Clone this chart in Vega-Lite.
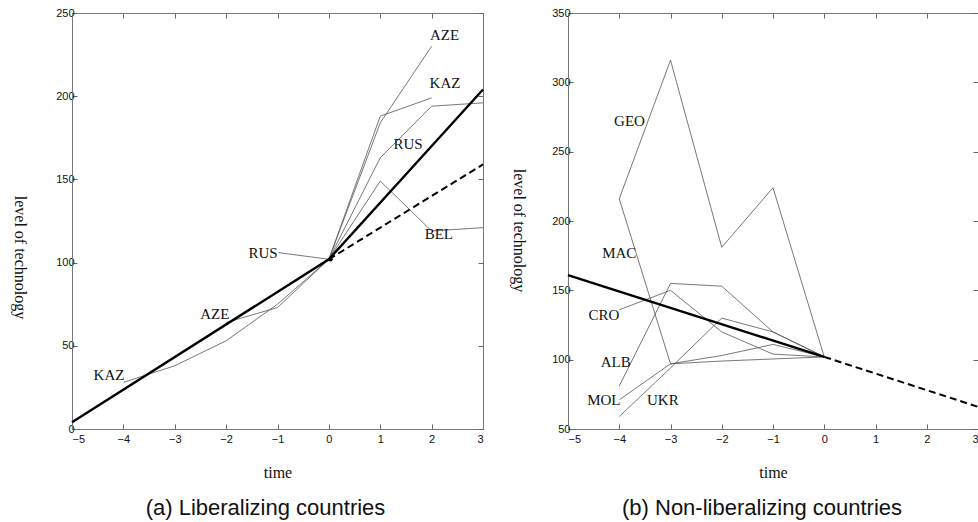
{
  "$schema": "https://vega.github.io/schema/vega-lite/v6.json",
  "background": "white",
  "padding": {"left": 10, "top": 6, "right": 0, "bottom": 0},
  "spacing": 20,
  "config": {
    "view": {"stroke": "#777", "strokeWidth": 1},
    "axis": {"grid": false, "domain": true, "domainColor": "#777", "tickColor": "#666", "tickSize": -5, "labelFont": "Liberation Sans", "labelFontSize": 11, "labelColor": "#111", "labelPadding": 9, "titleFont": "Liberation Serif", "titleFontSize": 16, "titleFontWeight": "normal", "titleColor": "#111"}
  },
  "datasets": {
    "aCountry": [
      {"series": "KAZ", "t": -4, "v": 28}, {"series": "KAZ", "t": -3, "v": 38}, {"series": "KAZ", "t": -2, "v": 53}, {"series": "KAZ", "t": -1, "v": 75}, {"series": "KAZ", "t": 0, "v": 102}, {"series": "KAZ", "t": 1, "v": 188}, {"series": "KAZ", "t": 2, "v": 199},
      {"series": "AZE", "t": -2, "v": 64}, {"series": "AZE", "t": -1, "v": 73}, {"series": "AZE", "t": 0, "v": 102}, {"series": "AZE", "t": 1, "v": 184}, {"series": "AZE", "t": 2, "v": 230},
      {"series": "RUS", "t": 0, "v": 102}, {"series": "RUS", "t": 1, "v": 163}, {"series": "RUS", "t": 2, "v": 194}, {"series": "RUS", "t": 3, "v": 196},
      {"series": "BEL", "t": 0, "v": 102}, {"series": "BEL", "t": 1, "v": 149}, {"series": "BEL", "t": 2, "v": 119}, {"series": "BEL", "t": 3, "v": 121},
      {"series": "RUS leader", "t": -0.98, "v": 106}, {"series": "RUS leader", "t": 0, "v": 102}
    ],
    "aFit": [{"t": -5, "v": 4}, {"t": 0, "v": 102}, {"t": 3, "v": 204}],
    "aProj": [{"t": 0, "v": 102}, {"t": 3, "v": 159}],
    "aDot": [{"t": 0.03, "v": 102}],
    "aLab": [
      {"label": "KAZ", "t": -4.28, "v": 32.5}, {"label": "AZE", "t": -2.22, "v": 69.4}, {"label": "RUS", "t": -1.28, "v": 106},
      {"label": "AZE", "t": 2.25, "v": 237}, {"label": "KAZ", "t": 2.26, "v": 208}, {"label": "RUS", "t": 1.54, "v": 171}, {"label": "BEL", "t": 2.14, "v": 117}
    ],
    "bCountry": [
      {"series": "GEO", "t": -4, "v": 216}, {"series": "GEO", "t": -3, "v": 316}, {"series": "GEO", "t": -2, "v": 181}, {"series": "GEO", "t": -1, "v": 224}, {"series": "GEO", "t": 0, "v": 102},
      {"series": "MAC", "t": -4, "v": 216}, {"series": "MAC", "t": -3, "v": 97}, {"series": "MAC", "t": -2, "v": 99}, {"series": "MAC", "t": -1, "v": 100.5}, {"series": "MAC", "t": 0, "v": 102},
      {"series": "ALB", "t": -4, "v": 81}, {"series": "ALB", "t": -3, "v": 155}, {"series": "ALB", "t": -2, "v": 153}, {"series": "ALB", "t": -1, "v": 120}, {"series": "ALB", "t": 0, "v": 102},
      {"series": "CRO", "t": -4, "v": 136}, {"series": "CRO", "t": -3, "v": 150}, {"series": "CRO", "t": -2, "v": 120}, {"series": "CRO", "t": -1, "v": 104}, {"series": "CRO", "t": 0, "v": 102},
      {"series": "MOL", "t": -4, "v": 71}, {"series": "MOL", "t": -3, "v": 97}, {"series": "MOL", "t": -2, "v": 103}, {"series": "MOL", "t": -1, "v": 111}, {"series": "MOL", "t": 0, "v": 102},
      {"series": "UKR", "t": -4, "v": 59}, {"series": "UKR", "t": -3, "v": 94}, {"series": "UKR", "t": -2, "v": 130}, {"series": "UKR", "t": -1, "v": 120}, {"series": "UKR", "t": 0, "v": 102}
    ],
    "bFit": [{"t": -5, "v": 161}, {"t": 0, "v": 102}],
    "bProj": [{"t": 0, "v": 102}, {"t": 3, "v": 66}],
    "bLab": [
      {"label": "GEO", "t": -3.8, "v": 272}, {"label": "MAC", "t": -4.0, "v": 177}, {"label": "CRO", "t": -4.3, "v": 132},
      {"label": "ALB", "t": -4.07, "v": 98}, {"label": "MOL", "t": -4.3, "v": 71}, {"label": "UKR", "t": -3.15, "v": 71}
    ]
  },
  "hconcat": [
    {
      "width": 411,
      "height": 416,
      "title": {"text": "(a) Liberalizing countries", "orient": "bottom", "anchor": "middle", "dx": -12, "offset": 18, "font": "Liberation Sans", "fontSize": 22, "fontWeight": "normal", "color": "#111"},
      "layer": [
        {
          "data": {"name": "aCountry"},
          "mark": {"type": "line", "color": "#555", "strokeWidth": 0.8},
          "encoding": {
            "x": {"field": "t", "type": "quantitative", "scale": {"domain": [-5, 3], "nice": false}, "axis": {"orient": "bottom", "values": [-5, -4, -3, -2, -1, 0, 1, 2, 3], "title": "time", "titlePadding": 20}},
            "y": {"field": "v", "type": "quantitative", "scale": {"domain": [0, 250], "nice": false}, "axis": {"orient": "left", "values": [0, 50, 100, 150, 200, 250], "title": "level of technology", "titleAngle": 90, "titleX": -53, "titleY": 244, "titleBaseline": "middle", "titleAlign": "center", "labelPadding": 3}},
            "detail": {"field": "series"}
          }
        },
        {
          "data": {"name": "aFit"},
          "mark": {"type": "line", "color": "#000", "strokeWidth": 2.4},
          "encoding": {"x": {"field": "t", "type": "quantitative", "axis": null}, "y": {"field": "v", "type": "quantitative", "axis": null}}
        },
        {
          "data": {"name": "aProj"},
          "mark": {"type": "line", "color": "#000", "strokeWidth": 2, "strokeDash": [7, 4]},
          "encoding": {"x": {"field": "t", "type": "quantitative", "axis": null}, "y": {"field": "v", "type": "quantitative", "axis": null}}
        },
        {
          "data": {"name": "aDot"},
          "mark": {"type": "point", "filled": true, "color": "#000", "size": 22, "opacity": 1},
          "encoding": {"x": {"field": "t", "type": "quantitative", "axis": null}, "y": {"field": "v", "type": "quantitative", "axis": null}}
        },
        {
          "data": {"name": "aLab"},
          "mark": {"type": "text", "font": "Liberation Serif", "fontSize": 15, "color": "#111", "align": "center", "baseline": "middle"},
          "encoding": {
            "x": {"field": "t", "type": "quantitative", "axis": {"orient": "top", "labels": false, "title": null, "values": [-5, -4, -3, -2, -1, 0, 1, 2, 3]}},
            "y": {"field": "v", "type": "quantitative", "axis": {"orient": "right", "labels": false, "title": null, "values": [0, 50, 100, 150, 200, 250]}},
            "text": {"field": "label"}
          }
        }
      ],
      "resolve": {"axis": {"x": "independent", "y": "independent"}}
    },
    {
      "width": 410,
      "height": 416,
      "title": {"text": "(b) Non-liberalizing countries", "orient": "bottom", "anchor": "middle", "dx": -11, "offset": 18, "font": "Liberation Sans", "fontSize": 22, "fontWeight": "normal", "color": "#111"},
      "layer": [
        {
          "data": {"name": "bCountry"},
          "mark": {"type": "line", "color": "#555", "strokeWidth": 0.8},
          "encoding": {
            "x": {"field": "t", "type": "quantitative", "scale": {"domain": [-5, 3], "nice": false}, "axis": {"orient": "bottom", "values": [-5, -4, -3, -2, -1, 0, 1, 2, 3], "title": "time", "titlePadding": 20}},
            "y": {"field": "v", "type": "quantitative", "scale": {"domain": [50, 350], "nice": false, "zero": false}, "axis": {"orient": "left", "values": [50, 100, 150, 200, 250, 300, 350], "title": "level of technology", "titleAngle": 90, "titleX": -50, "titleY": 217, "titleBaseline": "middle", "titleAlign": "center", "labelPadding": 3}},
            "detail": {"field": "series"}
          }
        },
        {
          "data": {"name": "bFit"},
          "mark": {"type": "line", "color": "#000", "strokeWidth": 2.4},
          "encoding": {"x": {"field": "t", "type": "quantitative", "axis": null}, "y": {"field": "v", "type": "quantitative", "axis": null}}
        },
        {
          "data": {"name": "bProj"},
          "mark": {"type": "line", "color": "#000", "strokeWidth": 2, "strokeDash": [7, 4]},
          "encoding": {"x": {"field": "t", "type": "quantitative", "axis": null}, "y": {"field": "v", "type": "quantitative", "axis": null}}
        },
        {
          "data": {"name": "bLab"},
          "mark": {"type": "text", "font": "Liberation Serif", "fontSize": 15, "color": "#111", "align": "center", "baseline": "middle"},
          "encoding": {
            "x": {"field": "t", "type": "quantitative", "axis": {"orient": "top", "labels": false, "title": null, "values": [-5, -4, -3, -2, -1, 0, 1, 2, 3]}},
            "y": {"field": "v", "type": "quantitative", "axis": {"orient": "right", "labels": false, "title": null, "values": [50, 100, 150, 200, 250, 300, 350]}},
            "text": {"field": "label"}
          }
        }
      ],
      "resolve": {"axis": {"x": "independent", "y": "independent"}}
    }
  ]
}
